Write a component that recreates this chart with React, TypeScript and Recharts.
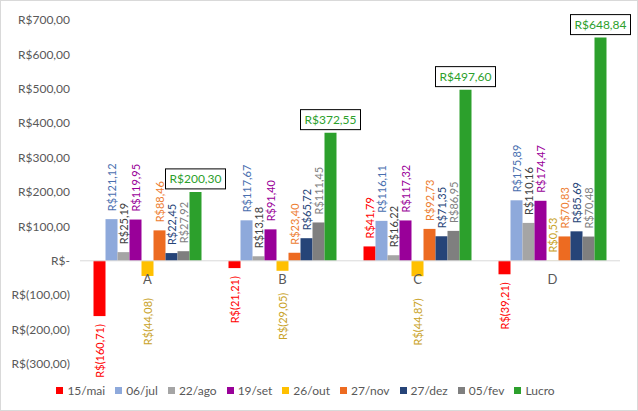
import React from 'react';
import {
  BarChart,
  Bar,
  XAxis,
  YAxis,
  Legend,
  ReferenceLine,
  LabelList
} from 'recharts';

const categories = ['A', 'B', 'C', 'D'];

const mai15 = [-160.71, -21.21, 41.79, -39.21];
const jul06 = [121.12, 117.67, 116.11, 175.89];
const ago22 = [25.19, 13.18, 16.22, 110.16];
const set19 = [119.95, 91.4, 117.32, 174.47];
const out26 = [-44.08, -29.05, -44.87, 0.53];
const nov27 = [88.46, 23.4, 92.73, 70.83];
const dez27 = [22.45, 65.72, 71.35, 85.69];
const fev05 = [27.92, 111.45, 86.95, 70.48];
const lucro = [200.3, 372.55, 497.6, 648.84];

const yTicks = [-300, -200, -100, 0, 100, 200, 300, 400, 500, 600, 700];

const legendOrder = ['15/mai', '06/jul', '22/ago', '19/set', '26/out', '27/nov', '27/dez', '05/fev', 'Lucro'];

// série: chave, nome, cor da barra, cor do rótulo
const series = [
  { key: 'mai15', name: '15/mai', values: mai15, fill: '#FF0000', label: '#FF0000' },
  { key: 'jul06', name: '06/jul', values: jul06, fill: '#8EA9DB', label: '#4A6FAF' },
  { key: 'ago22', name: '22/ago', values: ago22, fill: '#A5A5A5', label: '#404040' },
  { key: 'set19', name: '19/set', values: set19, fill: '#990099', label: '#990099' },
  { key: 'out26', name: '26/out', values: out26, fill: '#FFC000', label: '#C9A227' },
  { key: 'nov27', name: '27/nov', values: nov27, fill: '#ED6B21', label: '#ED7D31' },
  { key: 'dez27', name: '27/dez', values: dez27, fill: '#264478', label: '#264478' },
  { key: 'fev05', name: '05/fev', values: fev05, fill: '#7F7F7F', label: '#7F7F7F' }
];

const data = categories.map((cat, i) => {
  const row: { [k: string]: string | number } = { cat, lucro: lucro[i] };
  series.forEach((s) => {
    row[s.key] = s.values[i];
  });
  return row;
});

// layout do gráfico
const W = 638;
const H = 411;
const PLOT_TOP = 20;
const PLOT_H = 342;
const ZERO_Y = PLOT_TOP + (PLOT_H * 700) / 1000;

const fmt = (v: number) => {
  const abs = Math.abs(v).toFixed(2).replace('.', ',');
  if (v === 0) return 'R$-';
  return v < 0 ? `R$(${abs})` : `R$${abs}`;
};

const rotatedLabel = (color: string, negGap: number) => (props: any) => {
  const { x, y, width, height, value } = props;
  const v = Number(value);
  const cx = Number(x) + Number(width) / 2;
  const top = Math.min(Number(y), Number(y) + Number(height));
  const bottom = Math.max(Number(y), Number(y) + Number(height));
  const ty = v >= 0 ? top - 8 : bottom + negGap;
  return (
    <text
      x={cx}
      y={ty}
      transform={`rotate(-90 ${cx} ${ty})`}
      textAnchor={v >= 0 ? 'start' : 'end'}
      dominantBaseline="central"
      fill={color}
      fontSize={11}
    >
      {fmt(v)}
    </text>
  );
};

const lucroLabel = (props: any) => {
  const { x, y, width, value } = props;
  const cx = Number(x) + Number(width) / 2;
  const bottom = Number(y) - 3;
  return (
    <g>
      <rect x={cx - 30} y={bottom - 20} width={60} height={20} fill="#fff" stroke="#000" strokeWidth={1} />
      <text x={cx} y={bottom - 10} textAnchor="middle" dominantBaseline="central" fill="#2CA02C" fontSize={12}>
        {fmt(Number(value))}
      </text>
    </g>
  );
};

const CatTick = (props: any) => {
  const { x, payload } = props;
  return (
    <text x={x} y={ZERO_Y + 19} textAnchor="middle" dominantBaseline="central" fill="#595959" fontSize={13}>
      {payload.value}
    </text>
  );
};

export default function App() {
  return (
    <div
      style={{
        position: 'absolute',
        left: 0,
        top: 0,
        width: W,
        height: H,
        boxSizing: 'border-box',
        border: '1px solid #D9D9D9',
        background: '#fff',
        fontFamily: 'Lato, sans-serif'
      }}
    >
      <BarChart
        width={W - 2}
        height={H - 2}
        data={data}
        margin={{ top: PLOT_TOP - 1, right: 17, left: 0, bottom: 7 }}
        barCategoryGap="10%"
        barGap={0}
      >
        <YAxis
          width={79}
          domain={[-300, 700]}
          ticks={yTicks}
          axisLine={false}
          tickLine={false}
          tickMargin={4}
          tick={{ fill: '#595959', fontSize: 12 }}
          tickFormatter={(v: number) => fmt(v)}
        />
        <XAxis dataKey="cat" axisLine={false} tickLine={false} height={20} tick={<CatTick />} />
        <ReferenceLine y={0} stroke="#D9D9D9" />
        <Legend
          iconType="square"
          iconSize={7}
          itemSorter={(item: any) => legendOrder.indexOf(item.value)}
          wrapperStyle={{ bottom: 12 }}
          formatter={(value: string) => (
            <span style={{ color: '#595959', fontSize: 12 }}>{value}</span>
          )}
        />
        {series.map((s) => (
          <Bar key={s.key} dataKey={s.key} name={s.name} fill={s.fill} isAnimationActive={false}>
            <LabelList dataKey={s.key} content={rotatedLabel(s.label, s.key === 'out26' ? 22 : 8)} />
          </Bar>
        ))}
        <Bar dataKey="lucro" name="Lucro" fill="#2CA02C" isAnimationActive={false}>
          <LabelList dataKey="lucro" content={lucroLabel} />
        </Bar>
      </BarChart>
    </div>
  );
}
